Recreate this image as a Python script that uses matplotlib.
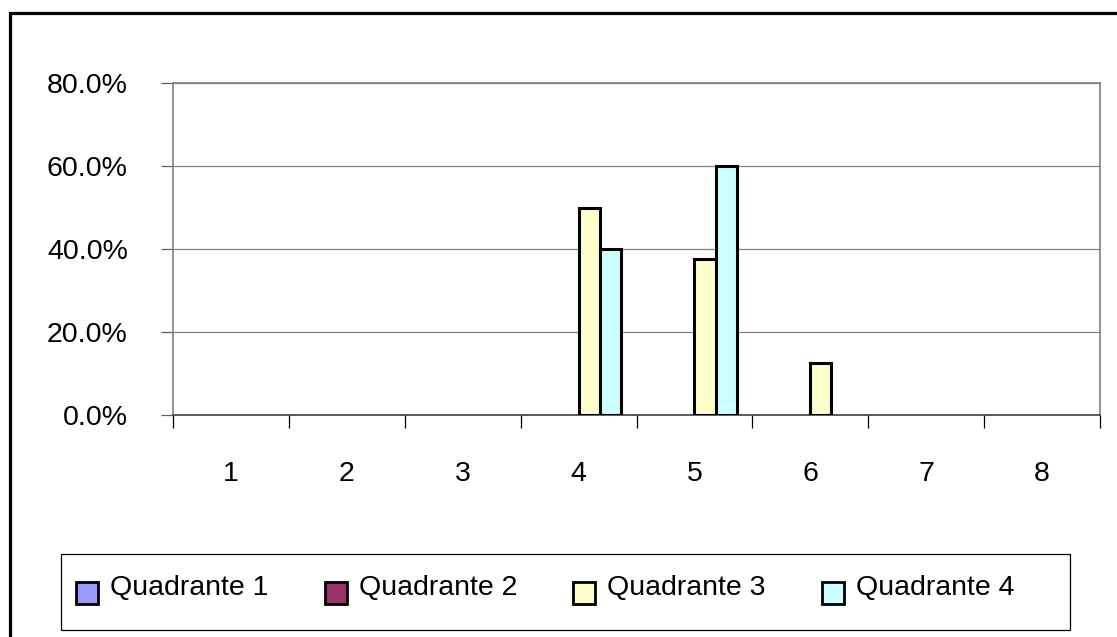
import matplotlib
matplotlib.use("Agg")
import matplotlib.pyplot as plt
from matplotlib.patches import Rectangle
from matplotlib.ticker import FixedLocator, PercentFormatter
import numpy as np

plt.rcParams['font.family'] = ['Liberation Sans', 'DejaVu Sans']

categories = ["1", "2", "3", "4", "5", "6", "7", "8"]
series_names = ["Quadrante 1", "Quadrante 2", "Quadrante 3", "Quadrante 4"]
quadrante_1 = [0.0, 0.0, 0.0, 0.0, 0.0, 0.0, 0.0, 0.0]
quadrante_2 = [0.0, 0.0, 0.0, 0.0, 0.0, 0.0, 0.0, 0.0]
quadrante_3 = [0.0, 0.0, 0.0, 0.500, 0.375, 0.125, 0.0, 0.0]
quadrante_4 = [0.0, 0.0, 0.0, 0.400, 0.600, 0.0, 0.0, 0.0]
y_ticks = [0.0, 0.2, 0.4, 0.6, 0.8]

colors = ["#9999FF", "#993366", "#FFFFCC", "#CCFFFF"]
all_series = [quadrante_1, quadrante_2, quadrante_3, quadrante_4]

W, H = 1117, 637
fig = plt.figure(figsize=(W / 100, H / 100), dpi=100)
fs = 20.5


def fx(px):
    return px / W


def fy(py):
    return 1 - py / H


# chart area frame (runs off the right and bottom edges)
fig.add_artist(Rectangle((fx(10), fy(700)), fx(1200), fy(13) - fy(700),
                         transform=fig.transFigure, fill=False,
                         edgecolor="black", linewidth=2.3))

ax = fig.add_axes([fx(173), fy(415), fx(1100 - 173), fy(83) - fy(415)])

x = np.arange(1, len(categories) + 1)
bw = 1 / 5.5
for i, (vals, c) in enumerate(zip(all_series, colors)):
    lws = [2.2 if v > 0 else 0 for v in vals]
    ax.bar(x + (i - 1.5) * bw, vals, width=bw, color=c, edgecolor="black",
           linewidth=lws, zorder=3)

ax.set_xlim(0.5, len(categories) + 0.5)
ax.set_ylim(0, 0.8)
ax.yaxis.set_major_locator(FixedLocator(y_ticks))
ax.yaxis.set_major_formatter(PercentFormatter(1.0, decimals=1))
ax.grid(axis="y", color="#808080", linewidth=0.9, zorder=0)

ax.xaxis.set_major_locator(FixedLocator(np.arange(0.5, len(categories) + 1, 1.0)))
ax.set_xticklabels([])
ax.xaxis.set_minor_locator(FixedLocator(x))
ax.set_xticklabels(categories, minor=True)
ax.tick_params(axis="x", which="major", direction="out", length=9.5,
               width=0.9, color="black")
ax.tick_params(axis="x", which="minor", length=0, pad=33, labelsize=fs)
ax.tick_params(axis="y", direction="out", length=8.5, width=0.9,
               color="#606060", pad=24, labelsize=fs)

for side in ["top", "right", "left"]:
    ax.spines[side].set_color("#808080")
    ax.spines[side].set_linewidth(1.2)
ax.spines["bottom"].set_color("#404040")
ax.spines["bottom"].set_linewidth(1.2)

# legend box
fig.add_artist(Rectangle((fx(61), fy(630)), fx(1070 - 61), fy(554) - fy(630),
                         transform=fig.transFigure, fill=False,
                         edgecolor="black", linewidth=0.9))
sq = 22
for i, (name, c) in enumerate(zip(series_names, colors)):
    x0 = 76 + i * 248.7
    fig.add_artist(Rectangle((fx(x0), fy(604)), fx(sq), fy(582) - fy(604),
                             transform=fig.transFigure, facecolor=c,
                             edgecolor="black", linewidth=2.0))
    fig.text(fx(x0 + 34), fy(595), name, fontsize=fs, ha="left",
             va="baseline")

fig.savefig("out.png", dpi=100)
